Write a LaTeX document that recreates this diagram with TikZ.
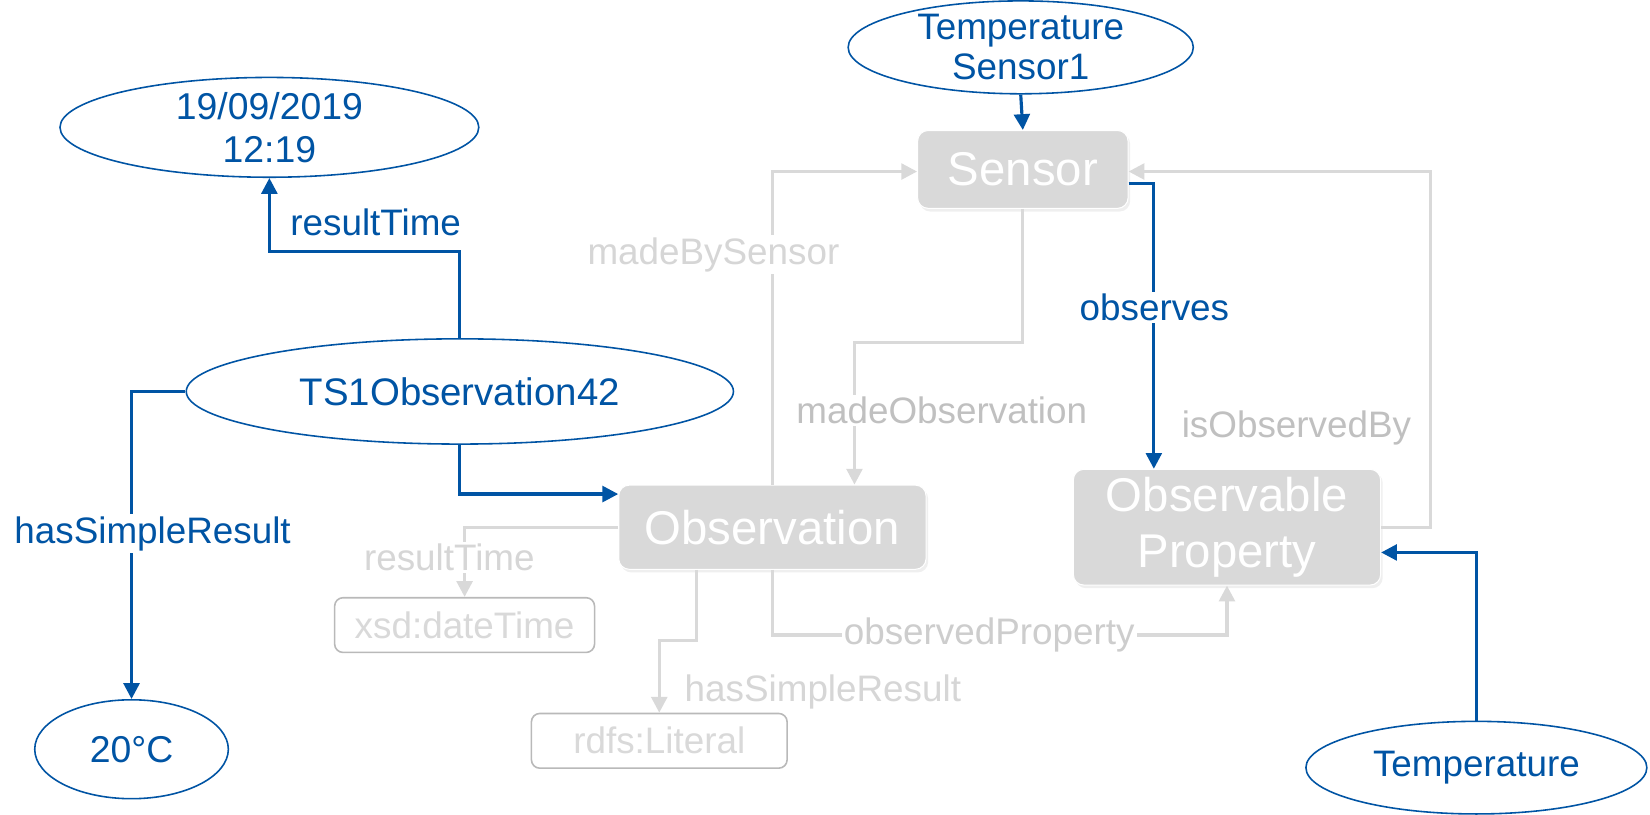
\documentclass[tikz,border=0pt]{standalone}
\usepackage{fontspec}
\setmainfont{Liberation Sans}
\usetikzlibrary{arrows.meta,calc,shapes.geometric,shadows}
\definecolor{ssnblue}{RGB}{0,84,164}
\definecolor{boxgray}{RGB}{217,217,217}
\definecolor{linegray}{RGB}{217,217,217}
\definecolor{lbldark}{RGB}{192,192,192}
\definecolor{lbllight}{RGB}{214,214,214}
\definecolor{litborder}{RGB}{185,185,185}
\tikzset{
  ell/.style={ellipse, draw=ssnblue, line width=1.5pt, fill=white, text=ssnblue, inner sep=0pt, align=center, font=\fontsize{35.5}{41}\selectfont},
  cls/.style={rectangle, rounded corners=10pt, fill=boxgray, draw=white, line width=1pt, text=white, inner sep=0pt, align=center, font=\fontsize{45}{53}\selectfont, drop shadow={opacity=0.12, shadow xshift=2pt, shadow yshift=-3pt}},
  lit/.style={rectangle, rounded corners=8pt, fill=white, draw=litborder, line width=1.5pt, text=boxgray, inner sep=0pt, font=\fontsize{35}{42}\selectfont},
  blueedge/.style={draw=ssnblue, line width=3pt, -{Triangle[length=15pt,width=15pt]}},
  grayedge/.style={draw=linegray, line width=3pt, -{Triangle[length=15pt,width=15pt]}},
  bluelbl/.style={text=ssnblue, fill=white, inner sep=2pt, font=\fontsize{35}{42}\selectfont},
  graylbl/.style={text=lbldark, fill=white, inner sep=2pt, font=\fontsize{35}{42}\selectfont},
  paleLbl/.style={graylbl, text=lbllight}
}
\begin{document}
\begin{tikzpicture}[x=1pt,y=-1pt]
\fill[white] (0,0) rectangle (1568,774);
\useasboundingbox (0,0) rectangle (1568,774);

% class boxes
\node[cls, minimum width=200pt, minimum height=74pt] (sensor) at (972,161) {Sensor};
\node[cls, minimum width=292pt, minimum height=80pt] (obs) at (734,501) {Observation};
\node[cls, minimum width=292pt, minimum height=110pt] (op) at (1166,501) {Observable\\Property};
\node[lit, minimum width=247pt, minimum height=52pt] (xsd) at (441.5,594) {xsd:dateTime};
\node[lit, minimum width=243pt, minimum height=52pt] (rdfs) at (626.5,704) {rdfs:Literal};

% instance ellipses
\node[ell, minimum width=398pt, minimum height=86pt] (date) at (256,121) {19/09/2019\\12:19};
\node[ell, minimum width=328pt, minimum height=80pt, font=\fontsize{35}{38}\selectfont] (tsens) at (970,45) {Temperature\\Sensor1};
\node[ell, minimum width=520pt, minimum height=100pt, font=\fontsize{36.5}{42}\selectfont] (ts1) at (437,372) {TS1Observation42};
\node[ell, minimum width=184pt, minimum height=94pt] (c20) at (125,712) {20°C};
\node[ell, minimum width=324pt, minimum height=88pt, font=\fontsize{35}{40}\selectfont] (temp) at (1403,729.5) {Temperature};

% helper coordinates
\coordinate (obsIn) at ($(obs.north west)+(0,9)$);
\coordinate (obsTop2) at ($(obs.north)+(78,0)$);
\coordinate (obsBot2) at ($(obs.south west)+(74,0)$);
\coordinate (sensOut) at ($(sensor.east)+(0,13)$);
\coordinate (sensIn) at ($(sensor.east)+(0,2)$);
\coordinate (sensInL) at ($(sensor.west)+(0,2)$);
\coordinate (opTop) at ($(op.north west)+(77,0)$);
\coordinate (opRight) at ($(op.east)+(0,24)$);

% gray (ontology) connectors
\draw[grayedge] (obs.north) |- (sensInL);
\draw[grayedge] (sensor.south) -- ++(0,127) -| (obsTop2);
\draw[grayedge] (op.east) -- ++(47,0) |- (sensIn);
\draw[grayedge] (obs.south) -- ++(0,62) -| (op.south);
\draw[grayedge] (obs.west) -| (xsd.north);
\draw[grayedge] (obsBot2) -- ++(0,67) -| (rdfs.north);

% blue (instance) connectors
\draw[blueedge] (tsens.south) -- (sensor.north);
\draw[blueedge] (ts1.north) -- ++(0,-82) -| (date.south);
\draw[blueedge] (ts1.west) -| (c20.north);
\draw[blueedge] (ts1.south) |- (obsIn);
\draw[blueedge] (sensOut) -| (opTop);
\draw[blueedge] (temp.north) |- (opRight);

% labels
\node[bluelbl] (lResT) at (357,211) {resultTime};
\node[bluelbl] (lHSR) at (145,507) {hasSimpleResult};
\node[bluelbl] (lObs) at (1097,292) {observes};
\node[paleLbl] (lMBS) at (678,242) {madeBySensor};
\node[graylbl] (lMO) at (895,390) {madeObservation};
\node[graylbl] (lIOB) at (1232,407) {isObservedBy};
\node[graylbl, text={rgb,255:red,205;green,205;blue,205}] (lOP) at (940,603) {observedProperty};
\node[paleLbl] (lRT2) at (427,530) {resultTime};
\node[paleLbl] (lHSR2) at (782,658) {hasSimpleResult};
\end{tikzpicture}
\end{document}
